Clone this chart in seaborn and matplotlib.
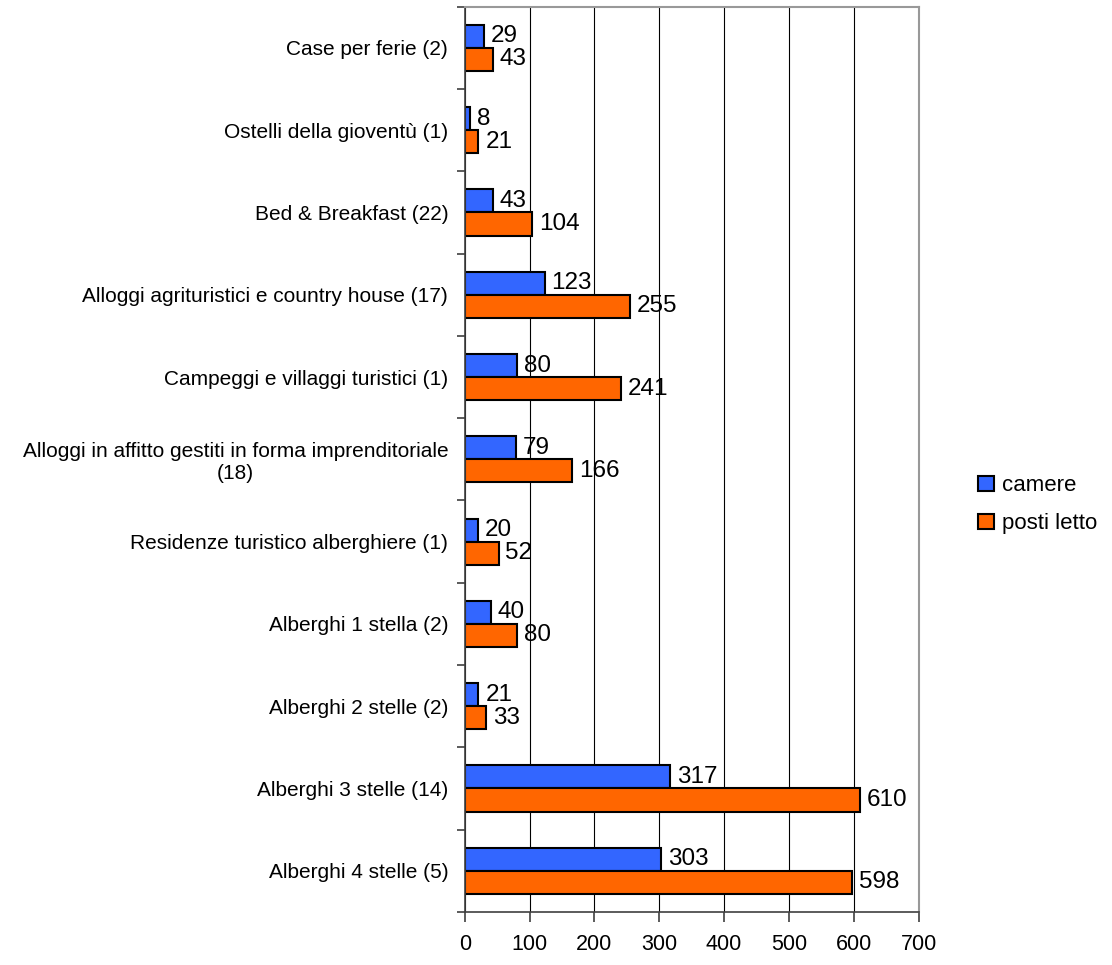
import matplotlib
matplotlib.use("Agg")
import matplotlib.pyplot as plt
import seaborn as sns
import pandas as pd

# categories, top to bottom as in the chart
categories = [
    "Case per ferie (2)",
    "Ostelli della gioventù (1)",
    "Bed & Breakfast (22)",
    "Alloggi agrituristici e country house (17)",
    "Campeggi e villaggi turistici (1)",
    "Alloggi in affitto gestiti in forma imprenditoriale\n(18)",
    "Residenze turistico alberghiere (1)",
    "Alberghi 1 stella (2)",
    "Alberghi 2 stelle (2)",
    "Alberghi 3 stelle (14)",
    "Alberghi 4 stelle (5)",
]
camere = [29, 8, 43, 123, 80, 79, 20, 40, 21, 317, 303]
posti_letto = [43, 21, 104, 255, 241, 166, 52, 80, 33, 610, 598]
series = ["camere", "posti letto"]
colors = ["#3366FF", "#FF6600"]
xticks = [0, 100, 200, 300, 400, 500, 600, 700]

n = len(categories)
df = pd.DataFrame({
    "categoria": categories * 2,
    "valore": camere + posti_letto,
    "serie": [series[0]] * n + [series[1]] * n,
})

sns.set_style("white")
plt.rcParams["font.family"] = ["Liberation Sans", "DejaVu Sans"]
plt.rcParams["text.color"] = "black"
plt.rcParams["xtick.color"] = "black"
plt.rcParams["ytick.color"] = "black"

fig = plt.figure(figsize=(11.12, 9.65), dpi=100)
ax = fig.add_axes([0.418, 0.055, 0.408, 0.938])

sns.barplot(data=df, y="categoria", x="valore", hue="serie", order=categories,
            hue_order=series, palette=colors, orient="h", width=0.56,
            saturation=1, edgecolor="black", linewidth=1.5, ax=ax)

for cont in ax.containers:
    ax.bar_label(cont, padding=5, fontsize=17.5, color="black")

ax.set_xlim(0, 700)
ax.set_xticks(xticks)
ax.set_ylim(n - 0.5, -0.5)
ax.set_xlabel("")
ax.set_ylabel("")

# labels at category centres, ticks at category boundaries
ax.set_yticks(range(n))
ax.set_yticklabels(categories, fontsize=15, multialignment="center")
ax.set_yticks([i - 0.5 for i in range(n + 1)], minor=True)
ax.tick_params(axis="y", which="major", left=False, length=0, pad=12)
ax.tick_params(axis="y", which="minor", left=True, length=6, width=1.2,
               direction="out", color="#404040")
ax.tick_params(axis="x", bottom=True, length=7, width=1.2, direction="out",
               color="#404040", labelsize=15.5, pad=9)

ax.xaxis.grid(True, color="black", linewidth=0.8)
ax.set_axisbelow(True)

for side in ["top", "right"]:
    ax.spines[side].set_color("#999999")
    ax.spines[side].set_linewidth(1.5)
for side in ["left", "bottom"]:
    ax.spines[side].set_color("#404040")
    ax.spines[side].set_linewidth(1.2)

ax.legend(loc="center left", bbox_to_anchor=(1.088, 0.45), frameon=False,
          fontsize=16, handlelength=0.68, handleheight=0.68,
          handletextpad=0.4, labelspacing=0.75)

fig.savefig("out.png", dpi=100)
